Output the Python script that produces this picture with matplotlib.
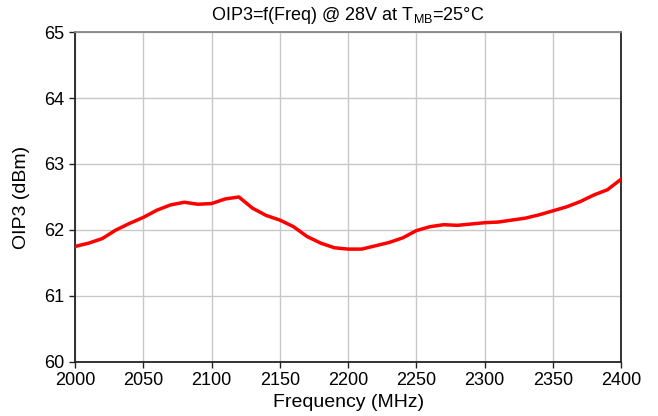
import matplotlib.pyplot as plt

plt.rcParams['font.family'] = ['Liberation Sans', 'DejaVu Sans']

# Frequency (MHz) and OIP3 (dBm)
freq = [2000, 2010, 2020, 2030, 2040, 2050, 2060, 2070, 2080, 2090,
        2100, 2110, 2120, 2130, 2140, 2150, 2160, 2170, 2180, 2190,
        2200, 2210, 2220, 2230, 2240, 2250, 2260, 2270, 2280, 2290,
        2300, 2310, 2320, 2330, 2340, 2350, 2360, 2370, 2380, 2390, 2400]
oip3 = [61.75, 61.80, 61.87, 62.00, 62.10, 62.19, 62.30, 62.38, 62.42, 62.39,
        62.40, 62.47, 62.50, 62.33, 62.22, 62.15, 62.05, 61.90, 61.80, 61.73,
        61.71, 61.71, 61.76, 61.81, 61.88, 61.99, 62.05, 62.08, 62.07, 62.09,
        62.11, 62.12, 62.15, 62.18, 62.23, 62.29, 62.35, 62.43, 62.53, 62.61, 62.77]

x_ticks = [2000, 2050, 2100, 2150, 2200, 2250, 2300, 2350, 2400]
y_ticks = [60, 61, 62, 63, 64, 65]

fig = plt.figure(figsize=(6.58, 4.16), dpi=100)
ax = fig.add_axes([0.114, 0.130, 0.830, 0.793])

ax.plot(freq, oip3, color='#ff0000', linewidth=2.5, zorder=3)

ax.set_xlim(2000, 2400)
ax.set_ylim(60, 65)
ax.set_xticks(x_ticks)
ax.set_yticks(y_ticks)
ax.grid(True, color='#c8c8c8', linewidth=1)
ax.set_axisbelow(True)

for side in ['left', 'bottom', 'right']:
    ax.spines[side].set_color('#222222')
    ax.spines[side].set_linewidth(1.3)
ax.spines['top'].set_color('#888888')
ax.spines['top'].set_linewidth(1.3)

ax.tick_params(axis='both', direction='out', length=4, width=1, labelsize=13, colors='#222222')
ax.tick_params(axis='both', labelcolor='black')

ax.set_xlabel('Frequency (MHz)', fontsize=14, labelpad=3)
ax.set_ylabel('OIP3 (dBm)', fontsize=14, labelpad=10)
ax.set_title(r'OIP3=f(Freq) @ 28V at T$_{\mathregular{MB}}$=25°C', fontsize=13, pad=9)

fig.savefig('out.png', dpi=100)
